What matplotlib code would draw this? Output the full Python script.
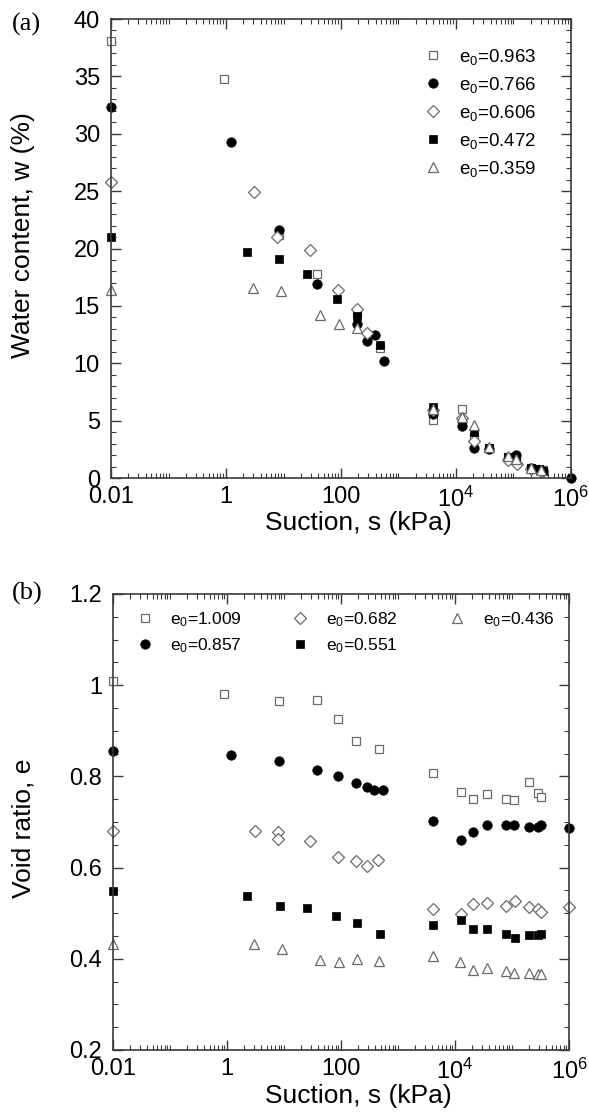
import math
import matplotlib
matplotlib.use("Agg")
import matplotlib.pyplot as plt
from matplotlib.legend import Legend
from matplotlib.ticker import LogLocator, FuncFormatter, MultipleLocator, NullFormatter

plt.rcParams['font.family'] = ['Liberation Sans', 'DejaVu Sans']
plt.rcParams['mathtext.fontset'] = 'custom'
plt.rcParams['mathtext.rm'] = 'Liberation Sans'
plt.rcParams['mathtext.it'] = 'Liberation Sans:italic'

GRAY = '#6a6a6a'
SPINE = '#3a3a3a'

# ---- panel (a): water content vs suction
a_labels = ['0.963', '0.766', '0.606', '0.472', '0.359']
a_s1 = [0.01, 0.92, 8.5, 38.7, 187, 476, 4030, 12700, 20400, 37000, 80000, 110000, 200000, 280000, 325000]
a_w1 = [38.1, 34.8, 21.2, 17.8, 14.4, 11.3, 5.1, 6.0, 3.6, 2.6, 1.8, 1.7, 0.9, 0.8, 0.7]
a_s2 = [0.01, 1.21, 8.5, 38.7, 187, 286, 395, 553, 4030, 12700, 20400, 37000, 80000, 110000, 200000, 280000, 325000, 1e6]
a_w2 = [32.3, 29.25, 21.6, 16.9, 13.4, 11.9, 12.5, 10.2, 5.6, 4.5, 2.6, 2.5, 1.7, 2.0, 0.9, 0.7, 0.6, 0.0]
a_s3 = [0.01, 3.07, 7.6, 28.9, 88.7, 187, 286, 4030, 12700, 20400, 80000, 115000, 200000, 300000]
a_w3 = [25.8, 24.9, 21.0, 19.9, 16.4, 14.75, 12.6, 5.9, 5.2, 3.2, 1.6, 1.2, 0.8, 0.6]
a_s4 = [0.01, 2.29, 8.45, 25.3, 85, 187, 476, 4030, 12700, 20400, 37000, 80000, 110000, 200000, 280000, 325000]
a_w4 = [21.0, 19.7, 19.1, 17.8, 15.6, 14.1, 11.6, 6.2, 4.8, 4.0, 2.6, 1.8, 1.8, 0.9, 0.8, 0.6]
a_s5 = [0.01, 2.98, 9.05, 43, 94, 187, 4030, 12700, 20400, 37000, 80000, 110000, 200000, 300000]
a_w5 = [16.4, 16.6, 16.3, 14.2, 13.4, 13.1, 6.0, 5.3, 4.6, 2.7, 1.9, 1.7, 0.9, 0.7]

# ---- panel (b): void ratio vs suction
b_labels = ['1.009', '0.857', '0.682', '0.551', '0.436']
b_s1 = [0.01, 0.9, 8.3, 38.4, 88.5, 186, 465, 4100, 12600, 20400, 36900, 78500, 110000, 201000, 282000, 325000]
b_e1 = [1.008, 0.981, 0.965, 0.967, 0.925, 0.878, 0.860, 0.808, 0.765, 0.750, 0.761, 0.751, 0.748, 0.788, 0.764, 0.754]
b_s2 = [0.01, 1.19, 8.3, 38.4, 88.5, 186, 286, 383, 545, 4050, 12600, 20400, 36900, 78500, 110000, 201000, 282000, 325000, 1e6]
b_e2 = [0.855, 0.846, 0.834, 0.813, 0.801, 0.786, 0.777, 0.770, 0.769, 0.703, 0.661, 0.677, 0.694, 0.693, 0.693, 0.689, 0.688, 0.693, 0.687]
b_s3 = [0.01, 3.1, 7.9, 7.9, 28.6, 88.5, 185, 280, 445, 4050, 12600, 20400, 36900, 78500, 113000, 201000, 282000, 325000, 1e6]
b_e3 = [0.680, 0.680, 0.677, 0.663, 0.658, 0.624, 0.614, 0.604, 0.616, 0.509, 0.498, 0.520, 0.523, 0.516, 0.527, 0.513, 0.509, 0.503, 0.513]
b_s4 = [0.01, 2.2, 8.5, 25.8, 81.7, 187, 480, 4100, 12600, 20400, 36900, 78500, 113000, 201000, 282000, 325000]
b_e4 = [0.549, 0.537, 0.516, 0.511, 0.493, 0.479, 0.455, 0.473, 0.484, 0.465, 0.465, 0.454, 0.446, 0.453, 0.452, 0.454]
b_s5 = [0.01, 2.98, 9.1, 42.8, 91.6, 187, 470, 4050, 12300, 20400, 36900, 78500, 110000, 201000, 282000, 325000]
b_e5 = [0.432, 0.432, 0.421, 0.397, 0.392, 0.400, 0.395, 0.405, 0.392, 0.376, 0.380, 0.373, 0.369, 0.368, 0.367, 0.367]

styles = [
    dict(marker='s', mfc='white', mec=GRAY, ms=6.0, mew=0.9),
    dict(marker='o', mfc='black', mec='black', ms=6.8, mew=0.5),
    dict(marker='D', mfc='white', mec=GRAY, ms=6.0, mew=0.9),
    dict(marker='s', mfc='black', mec='black', ms=6.2, mew=0.5),
    dict(marker='^', mfc='white', mec=GRAY, ms=7.5, mew=0.9),
]


def sci_fmt(x, pos):
    if x < 0.5:
        return '0.01'
    if x < 10:
        return '1'
    if x < 1000:
        return '100'
    p = int(round(math.log10(x)))
    return r'$\mathregular{10^{%d}}$' % p


def style_axes(ax, fs):
    ax.set_xscale('log')
    ax.set_xlim(0.01, 1e6)
    ax.xaxis.set_major_locator(LogLocator(base=100, numticks=20))
    ax.xaxis.set_major_formatter(FuncFormatter(sci_fmt))
    ax.xaxis.set_minor_locator(LogLocator(base=10, subs=(1.0, 2, 3, 4, 5, 6, 7, 8, 9), numticks=40))
    ax.xaxis.set_minor_formatter(NullFormatter())
    ax.tick_params(which='both', direction='in', top=True, right=True,
                   color=SPINE, labelsize=fs)
    ax.tick_params(axis='x', pad=6)
    ax.tick_params(axis='y', pad=8)
    ax.tick_params(which='major', length=7, width=1.0)
    ax.tick_params(which='minor', length=3.5, width=0.8)
    for sp in ax.spines.values():
        sp.set_color(SPINE)
        sp.set_linewidth(1.2)


def label(v):
    return r'e$_{\mathregular{0}}$=' + v


fig = plt.figure(figsize=(5.89, 11.12), dpi=100)

# panel (a)
ax1 = fig.add_axes([0.1885, 0.5701, 0.7809, 0.4128])
for s, w, st, lab in zip([a_s1, a_s2, a_s3, a_s4, a_s5], [a_w1, a_w2, a_w3, a_w4, a_w5], styles, a_labels):
    ax1.plot(s, w, ls='none', clip_on=False, label=label(lab), **st)
style_axes(ax1, 17)
ax1.set_ylim(0, 40)
ax1.yaxis.set_major_locator(MultipleLocator(5))
ax1.yaxis.set_minor_locator(MultipleLocator(1))
ax1.set_ylabel('Water content, w (%)', fontsize=19)
ax1.yaxis.set_label_coords(-0.165, 0.53)
ax1.set_xlabel('Suction, s (kPa)', fontsize=19)
ax1.xaxis.set_label_coords(0.537, -0.072)
ax1.legend(loc='upper left', bbox_to_anchor=(0.68, 0.939), frameon=False, fontsize=13.5,
           handlelength=1.0, handletextpad=0.9, labelspacing=0.42, borderaxespad=0, borderpad=0)
fig.text(0.02, 0.978, '(a)', fontsize=19, family='Liberation Serif', va='center')

# panel (b)
ax2 = fig.add_axes([0.1919, 0.0558, 0.7742, 0.4101])
handles = []
for s, e, st, lab in zip([b_s1, b_s2, b_s3, b_s4, b_s5], [b_e1, b_e2, b_e3, b_e4, b_e5], styles, b_labels):
    h, = ax2.plot(s, e, ls='none', clip_on=False, **st)
    handles.append(h)
style_axes(ax2, 17)
ax2.set_ylim(0.2, 1.2)
ax2.yaxis.set_major_locator(MultipleLocator(0.2))
ax2.yaxis.set_minor_locator(MultipleLocator(0.05))
ax2.yaxis.set_major_formatter(FuncFormatter(lambda v, p: ('%.1f' % v).replace('1.0', '1')))
ax2.set_ylabel('Void ratio, e', fontsize=19)
ax2.yaxis.set_label_coords(-0.17, 0.486)
ax2.set_xlabel('Suction, s (kPa)', fontsize=19)
ax2.xaxis.set_label_coords(0.537, -0.074)

# one legend per column, as in the original layout
legend_cols = [(0.050, [0, 1]), (0.392, [2, 3]), (0.736, [4])]
for x0, idx in legend_cols:
    lg = Legend(ax2, [handles[i] for i in idx], [label(b_labels[i]) for i in idx],
                loc='upper left', bbox_to_anchor=(x0, 0.965), frameon=False, fontsize=12.5,
                handlelength=1.0, handletextpad=0.95, labelspacing=0.42,
                borderaxespad=0, borderpad=0)
    ax2.add_artist(lg)
fig.text(0.02, 0.466, '(b)', fontsize=19, family='Liberation Serif', va='center')

fig.savefig('out.png', dpi=100)
